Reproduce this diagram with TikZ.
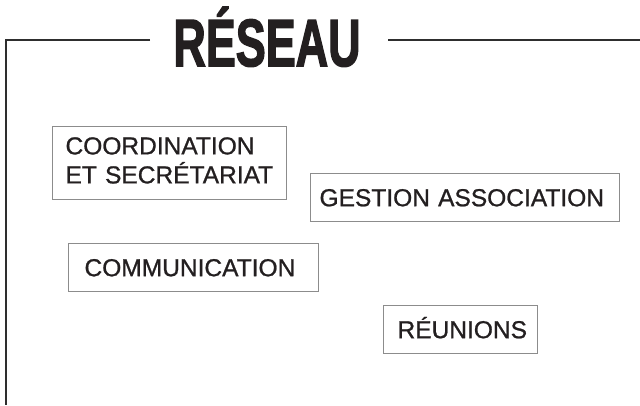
\documentclass[tikz,border=0pt]{standalone}
\usepackage{fontspec,graphicx}
\setmainfont{Liberation Sans}
\newfontfamily\boxfont{Liberation Sans}[FakeBold=0.9]
\newfontfamily\titlefont{Liberation Sans Bold}[FakeBold=2.5]
\usetikzlibrary{positioning}
\definecolor{ink}{HTML}{231F20}
\definecolor{framegray}{HTML}{2E2E2E}
\definecolor{boxgray}{HTML}{8C8C8C}

\begin{document}
\begin{tikzpicture}[x=0.75pt, y=-0.75pt,
      box/.style = {draw=boxgray, line width=0.8pt, fill=white, text=ink,
        anchor=north west, align=left, inner ysep=0pt,
        font=\boxfont\fontsize{18.4}{21.75}\selectfont},
      oneline/.style = {box, minimum height=36pt, text height=13pt,
        text depth=0pt},
      frame/.style = {draw=framegray, line width=1.5pt}]
      \useasboundingbox (0,0) rectangle (640,405);

      \node[text=ink, anchor=base, inner sep=0pt,
        font=\titlefont\fontsize{50}{50}\selectfont] (title) at (267,66)
        {\scalebox{0.674}[1]{RÉSEAU}};

      \node[box, minimum width=175.5pt, minimum height=54.75pt,
        inner xsep=9.75pt, text width=156pt, text height=13pt,
        text depth=26pt] (coord) at (52,126)
        {COORDINATION\\ET SECRÉTARIAT};
      \node[oneline, minimum width=231.75pt, inner xsep=6.75pt,
        text width=218.25pt] (gestion) at (310,173) {GESTION ASSOCIATION};
      \node[oneline, minimum width=187.5pt, inner xsep=12pt,
        text width=163.5pt] (comm) at (68,243) {COMMUNICATION};
      \node[oneline, minimum width=115.5pt, inner xsep=10.5pt,
        text width=94.5pt] (reunions) at (383,305) {RÉUNIONS};

      \coordinate (leftend) at (150,40);
      \coordinate (corner) at (6,40);
      \coordinate (bottom) at (6,405);
      \coordinate (rightstart) at (388,40);
      \coordinate (rightend) at (640,40);

      \draw[frame] (leftend) -- (corner) -- (bottom);
      \draw[frame] (rightstart) -- (rightend);
    \end{tikzpicture}
\end{document}
